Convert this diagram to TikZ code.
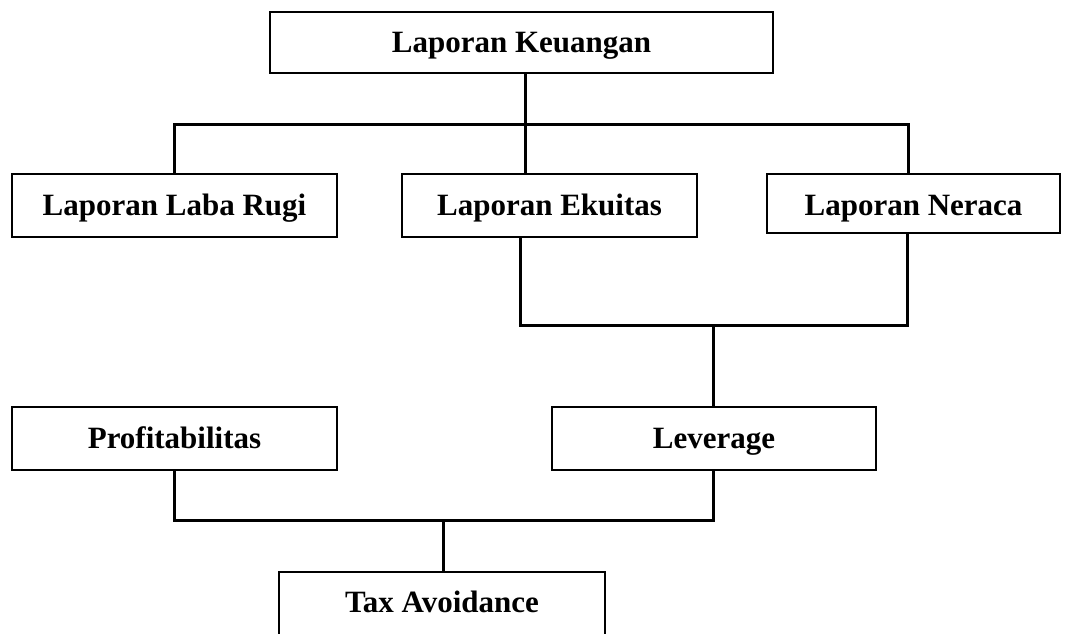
\documentclass[tikz,border=0pt]{standalone}
\usepackage{fontspec}
\setmainfont{Liberation Serif}
\begin{document}
\begin{tikzpicture}[x=1pt,y=-1pt,
  box/.style={draw=black,line width=2.6pt,fill=white,inner sep=0pt,
    font=\bfseries\fontsize{31}{36}\selectfont,align=center,
    text height=22pt,text depth=3pt},
  conn/.style={draw=black,line width=3pt,line join=miter}]
\useasboundingbox (0,0) rectangle (1065,633);
\fill[white] (0,0) rectangle (1065,633);
% boxes
\node[box,minimum width=503pt,minimum height=61pt] (top) at (521.5,42.5) {Laporan Keuangan};
\node[box,minimum width=325pt,minimum height=63pt] (laba) at (174.5,205.5) {Laporan Laba Rugi};
\node[box,minimum width=295pt,minimum height=63pt] (ekuitas) at (549.5,205.5) {Laporan Ekuitas};
\node[box,minimum width=293pt,minimum height=59pt,text height=24pt,text depth=1pt] (neraca) at (913.5,203.5) {Laporan Neraca};
\node[box,minimum width=325pt,minimum height=63pt] (prof) at (174.5,438.5) {Profitabilitas};
\node[box,minimum width=324pt,minimum height=63pt] (lev) at (714,438.5) {Leverage};
\node[box,minimum width=326pt,minimum height=64pt,text height=20pt,text depth=4pt] (tax) at (442,604) {Tax Avoidance};
% junction coordinates
\coordinate (j1) at (525,124);
\coordinate (b1l) at (174.5,124);
\coordinate (b1r) at (908,124);
\coordinate (b2l) at (520,325);
\coordinate (b2m) at (713,325);
\coordinate (b2r) at (907,325);
\coordinate (b3l) at (174.5,520);
\coordinate (b3m) at (443,520);
\coordinate (b3r) at (713,520);
% connectors
\draw[conn] (top.south -| j1) -- (j1);
\draw[conn] (laba.north) -- (b1l) -- (b1r) -- (neraca.north -| b1r);
\draw[conn] (j1) -- (ekuitas.north -| j1);
\draw[conn] (ekuitas.south -| b2l) -- (b2l) -- (b2r) -- (neraca.south -| b2r);
\draw[conn] (b2m) -- (lev.north -| b2m);
\draw[conn] (prof.south) -- (b3l) -- (b3r) -- (lev.south -| b3r);
\draw[conn] (b3m) -- (tax.north -| b3m);
\end{tikzpicture}
\end{document}
